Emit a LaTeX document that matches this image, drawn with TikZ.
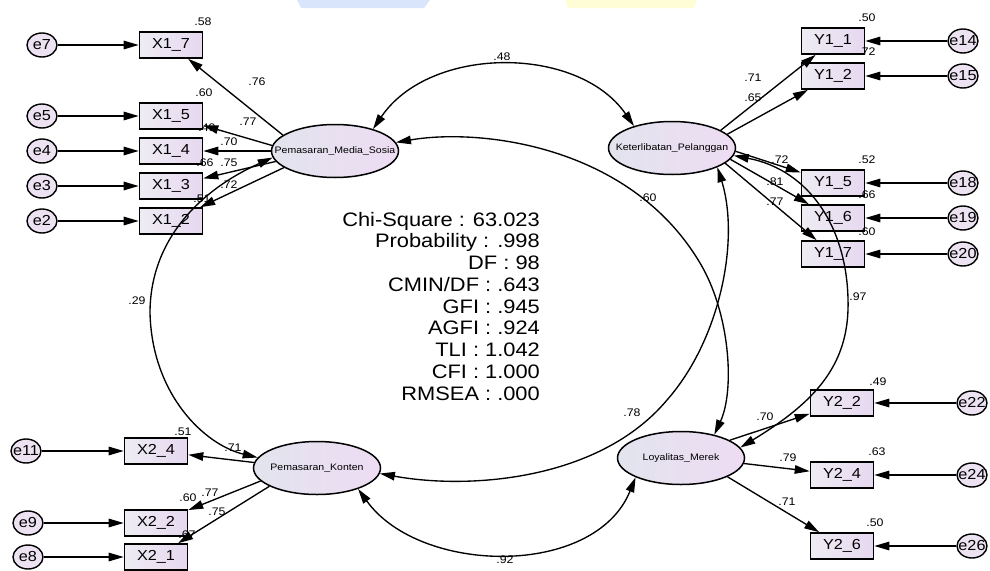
\documentclass[tikz,border=0pt]{standalone}
\usepackage{fontspec}
\setmainfont{Liberation Sans}[FakeStretch=1.12]
\usetikzlibrary{arrows.meta,shapes.geometric}
\definecolor{boxl}{RGB}{238,236,243}
\definecolor{boxr}{RGB}{230,216,240}
\definecolor{latl}{RGB}{226,228,238}
\definecolor{latr}{RGB}{238,220,243}
\definecolor{errf}{RGB}{236,226,242}
\definecolor{wmblue}{RGB}{216,229,250}
\definecolor{wmyel}{RGB}{255,253,214}

\begin{document}
\begin{tikzpicture}
    [
    x=1pt, y=-1pt
    , obs/.style = {draw, line width=1.6pt, left color=boxl, right color=boxr, minimum width=63pt, minimum height=26pt, inner sep=0pt, font=\fontsize{14.5}{16}\selectfont}
    , lat/.style = {draw, ellipse, line width=1.5pt, left color=latl, right color=latr, minimum width=127pt, minimum height=53pt, inner sep=0pt, label={[inner sep=0pt, font=\fontsize{9.4}{11}\selectfont]center:#1}}
    , err/.style = {draw, ellipse, line width=1.4pt, fill=errf, minimum width=30pt, minimum height=24pt, inner sep=0pt, label={[inner sep=0pt, font=\fontsize{14.5}{16}\selectfont]center:#1}}
    , num/.style = {inner sep=0pt, font=\fontsize{11}{12}\selectfont}
    , ld/.style = {line width=1.35pt, -{Triangle[length=15pt,width=8.5pt]}}
    , cov/.style = {line width=1.35pt, {Triangle[length=15pt,width=8.5pt]}-{Triangle[length=15pt,width=8.5pt]}}
    ]
\useasboundingbox (0,0) rectangle (990,570);
\fill[wmblue] (297,0) -- (430,0) -- (424,8) -- (301,8) -- cycle;
\fill[wmyel] (565,0) -- (697,0) -- (694,8) -- (568,8) -- cycle;

% latent variables
\node[lat=Pemasaran\_Media\_Sosia] (pms) at (335,151) {};
\node[lat=Keterlibatan\_Pelanggan] (kp) at (672,148) {};
\node[lat=Pemasaran\_Konten] (pk) at (317,468) {};
\node[lat=Loyalitas\_Merek] (lm) at (681,458) {};

% indicators
\node[obs] (x17) at (171,45) {X1\_7};
\node[obs] (x15) at (171,116) {X1\_5};
\node[obs] (x14) at (171,151) {X1\_4};
\node[obs] (x13) at (171,186) {X1\_3};
\node[obs] (x12) at (171,221) {X1\_2};
\node[obs] (x24) at (156,451) {X2\_4};
\node[obs] (x22) at (156,523) {X2\_2};
\node[obs] (x21) at (156,557) {X2\_1};
\node[obs] (y11) at (833,41) {Y1\_1};
\node[obs] (y12) at (833,76) {Y1\_2};
\node[obs] (y15) at (833,183) {Y1\_5};
\node[obs] (y16) at (833,218) {Y1\_6};
\node[obs] (y17) at (833,254) {Y1\_7};
\node[obs] (y22) at (842,403) {Y2\_2};
\node[obs] (y24) at (842,475) {Y2\_4};
\node[obs] (y26) at (842,546) {Y2\_6};

% errors
\node[err=e7] (e7) at (42,45) {};
\node[err=e5] (e5) at (42,116) {};
\node[err=e4] (e4) at (42,151) {};
\node[err=e3] (e3) at (42,186) {};
\node[err=e2] (e2) at (42,221) {};
\node[err=e11] (e11) at (26,451) {};
\node[err=e9] (e9) at (28,523) {};
\node[err=e8] (e8) at (28,557) {};
\node[err=e14] (e14) at (963,41) {};
\node[err=e15] (e15) at (963,76) {};
\node[err=e18] (e18) at (963,183) {};
\node[err=e19] (e19) at (963,218) {};
\node[err=e20] (e20) at (963,254) {};
\node[err=e22] (e22) at (972,403) {};
\node[err=e24] (e24) at (972,475) {};
\node[err=e26] (e26) at (972,546) {};

\draw[ld] (e7) -- (x17);
\draw[ld] (e5) -- (x15);
\draw[ld] (e4) -- (x14);
\draw[ld] (e3) -- (x13);
\draw[ld] (e2) -- (x12);
\draw[ld] (e11) -- (x24);
\draw[ld] (e9) -- (x22);
\draw[ld] (e8) -- (x21);
\draw[ld] (e14) -- (y11);
\draw[ld] (e15) -- (y12);
\draw[ld] (e18) -- (y15);
\draw[ld] (e19) -- (y16);
\draw[ld] (e20) -- (y17);
\draw[ld] (e22) -- (y22);
\draw[ld] (e24) -- (y24);
\draw[ld] (e26) -- (y26);

% loadings
\draw[ld] (pms.163) -- (x17);
\draw[ld] (pms.175) -- (x15);
\draw[ld] (pms.180) -- (x14);
\draw[ld] (pms.190) -- (x13);
\draw[ld] (pms.198) -- (x12);
\draw[ld] (pk.175) -- (x24);
\draw[ld] (pk.193) -- (x22);
\draw[ld] (pk.201) -- (x21);
\draw[ld] (kp.20) -- (y11);
\draw[ld] (kp.14) -- (y12);
\draw[ld] (kp.-3) -- (y15);
\draw[ld] (kp.-11) -- (y16);
\draw[ld] (kp.-16) -- (y17);
\draw[ld] (lm.20) -- (y22);
\draw[ld] (lm.-5) -- (y24);
\draw[ld] (lm.-22) -- (y26);

% correlations
\draw[cov] (pms.30) .. controls (430,45) and (578,45) .. (kp.150);
\draw[cov] (pms.8) .. controls (480,128) and (630,145) .. (700,263) .. controls (730,313) and (735,390) .. (lm.35);
\draw[cov] (pms.186) .. controls (200,190) and (150,240) .. (150,313) .. controls (152,395) and (205,445) .. (pk.170);
\draw[cov] (pk.-5) .. controls (470,490) and (600,480) .. (667,400) .. controls (720,340) and (740,240) .. (kp.-23);
\draw[cov] (kp.-7) .. controls (810,170) and (850,230) .. (848,310) .. controls (846,370) and (810,405) .. (lm.10);
\draw[cov] (pk.-27) .. controls (420,575) and (595,578) .. (lm.203);

% estimates
\node[num] (r17) at (203,22) {.58};
\node[num] (r15) at (204,93) {.60};
\node[num] (r14) at (207,128) {.49};
\node[num] (r13) at (205,163) {.66};
\node[num] (r12) at (202,199) {.51};
\node[num] (l17) at (257,82) {.76};
\node[num] (l15) at (248,122) {.77};
\node[num] (l14) at (229,142) {.70};
\node[num] (l13) at (229,163) {.75};
\node[num] (l12) at (229,185) {.72};
\node[num] (r24) at (183,432) {.51};
\node[num] (r22) at (188,498) {.60};
\node[num] (r21) at (187,535) {.67};
\node[num] (l24) at (233,448) {.71};
\node[num] (l22) at (210,493) {.77};
\node[num] (l21) at (217,512) {.75};
\node[num] (r11) at (867,18) {.50};
\node[num] (r12y) at (867,52) {.72};
\node[num] (r15y) at (867,160) {.52};
\node[num] (r16) at (867,195) {.66};
\node[num] (r17y) at (867,232) {.60};
\node[num] (l11) at (753,78) {.71};
\node[num] (l12y) at (753,98) {.65};
\node[num] (l15y) at (780,160) {.72};
\node[num] (l16) at (775,182) {.81};
\node[num] (l17y) at (775,202) {.77};
\node[num] (r22y) at (878,382) {.49};
\node[num] (r24y) at (877,452) {.63};
\node[num] (r26) at (875,523) {.50};
\node[num] (l22y) at (765,417) {.70};
\node[num] (l24y) at (788,458) {.79};
\node[num] (l26) at (787,502) {.71};
\node[num] (c1) at (502,57) {.48};
\node[num] (c2) at (648,198) {.60};
\node[num] (c3) at (137,301) {.29};
\node[num] (c4) at (632,413) {.78};
\node[num] (c5) at (858,297) {.97};
\node[num] (c6) at (505,560) {.92};

% fit
\foreach \t [count=\i] in {Chi-Square : 63.023, Probability : .998, DF : 98, CMIN/DF : .643, GFI : .945, AGFI : .924, TLI : 1.042, CFI : 1.000, RMSEA : .000}
  \node[inner sep=0pt, anchor=base east, font=\fontsize{19.5}{21}\selectfont] (s\i) at (540,{226+(\i-1)*21.75}) {\t};
\end{tikzpicture}
\end{document}
